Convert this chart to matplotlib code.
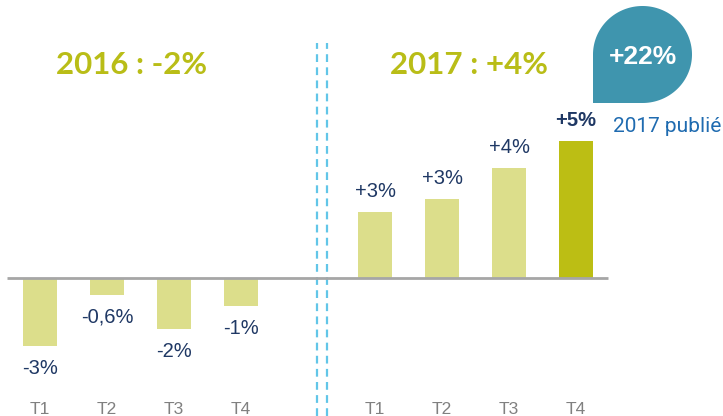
import matplotlib.pyplot as plt
import numpy as np
from matplotlib.patches import PathPatch
from matplotlib.path import Path
from matplotlib.transforms import IdentityTransform

# data
quarters = ["T1", "T2", "T3", "T4"]
vals_2016 = [-2.48, -0.62, -1.86, -1.02]
vals_2017 = [2.41, 2.88, 4.01, 5.0]
labels_2016 = ["-3%", "-0,6%", "-2%", "-1%"]
labels_2017 = ["+3%", "+3%", "+4%", "+5%"]
title_2016 = "2016 : -2%"
title_2017 = "2017 : +4%"
bubble_text = "+22%"
bubble_caption = "2017 publié"

# colours
light = "#dcde8b"
dark = "#bcbe14"
navy = "#1f3864"
olive = "#b9bd17"
grey = "#808080"
teal = "#3f95ae"
blue = "#1f6bb0"

fig = plt.figure(figsize=(7.23, 4.16), dpi=100)
ax = fig.add_axes([0, 0, 1, 1])
ax.set_xlim(-0.597, 10.194)
ax.set_ylim(-5.036, 10.146)
ax.axis("off")

x16 = np.arange(4)
x17 = np.arange(4) + 5
xs = np.concatenate([x16, x17])
vals = vals_2016 + vals_2017
labels = labels_2016 + labels_2017
colors = [light] * 7 + [dark]

ax.bar(xs, vals, width=0.5, color=colors, zorder=2)
ax.hlines(0, xs[0] - 0.49, xs[-1] + 0.48, color="#a6a6a6", lw=2, zorder=3)

for i in range(len(xs)):
    v = vals[i]
    off = 14.5 if v > 0 else -16
    ax.annotate(labels[i], (xs[i], v), xytext=(0, off), textcoords="offset points",
                ha="center", va="center", fontsize=14.5, color=navy,
                family="Liberation Sans",
                fontweight="bold" if i == len(xs) - 1 else "normal")

for i in range(len(xs)):
    ax.text(xs[i], -4.8, quarters[i % 4], ha="center", va="center",
            fontsize=12.5, color=grey, family="Liberation Sans")

# separators
for xv in [4.13, 4.28]:
    ax.axvline(xv, ymin=0, ymax=0.897, color="#62c6e8", lw=1.6,
               dashes=(3.5, 2.4), zorder=1)

# group titles
ax.text(np.mean(x16) - 0.14, 7.77, title_2016, ha="center", va="center",
        fontsize=22.5, fontweight="bold", color=olive, family="Lato")
ax.text(np.mean(x17) - 0.1, 7.77, title_2017, ha="center", va="center",
        fontsize=22.5, fontweight="bold", color=olive, family="Lato")

# bubble (pixel coords, origin bottom-left)
x0, x1 = 593, 692
y0, y1 = 313, 410
r = (x1 - x0) / 2
cx, cy = x0 + r, y0 + (y1 - y0) / 2
t = np.linspace(np.pi, -np.pi / 2, 120)
arc = np.column_stack([cx + r * np.cos(t), cy + (y1 - y0) / 2 * np.sin(t)])
verts = np.vstack([[x0, y0], arc, [x0, y0]])
codes = [Path.MOVETO] + [Path.LINETO] * (len(verts) - 2) + [Path.CLOSEPOLY]
drop = PathPatch(Path(verts, codes), facecolor=teal, edgecolor="none",
                 transform=IdentityTransform())
fig.add_artist(drop)
fig.text(642.5 / 723, 1 - 57.5 / 416, bubble_text, ha="center", va="center",
         fontsize=19, fontweight="bold", color="white", family="Liberation Sans")
fig.text(613 / 723, 1 - 127 / 416, bubble_caption, ha="left", va="center",
         fontsize=15, color=blue, family="Roboto")

fig.savefig("out.png", dpi=100)
